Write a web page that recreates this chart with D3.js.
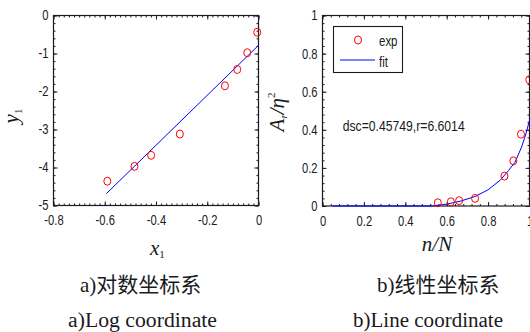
<!DOCTYPE html>
<html>
<head>
<meta charset="utf-8">
<script src="https://cdn.jsdelivr.net/npm/d3@7"></script>
<style>
body { margin: 0; background: #fff; }
svg { display: block; }
</style>
</head>
<body>
<div id="chart"></div>
<script>
// a) log coordinate panel
var logX = [-0.59, -0.484, -0.419, -0.307, -0.131, -0.083, -0.044, -0.005]
var logY = [-4.36, -3.97, -3.68, -3.12, -1.85, -1.42, -0.98, -0.44]
var logFitX = [-0.594, 0]
var logFitY = [-4.69, -0.785]
var logXTicks = [-0.8, -0.6, -0.4, -0.2, 0]
var logYTicks = [0, -1, -2, -3, -4, -5]

// b) linear coordinate panel
var linX = [0.557, 0.62, 0.66, 0.737, 0.879, 0.922, 0.959, 0.999]
var linY = [0.017, 0.022, 0.028, 0.04, 0.157, 0.237, 0.377, 0.663]
var linFitX = [0.047, 0.53, 0.6, 0.665, 0.737, 0.8, 0.858, 0.898, 0.93, 0.962, 0.983, 1.0]
var linFitY = [0, 0, 0.01, 0.025, 0.05, 0.085, 0.135, 0.185, 0.23, 0.31, 0.38, 0.45]
var linTicks = [0, 0.2, 0.4, 0.6, 0.8, 1]
var legendLabels = ["exp", "fit"]
var noteText = "dsc=0.45749,r=6.6014"

var captions = [
    {cn: "a)对数坐标系", en: "a)Log coordinate"},
    {cn: "b)线性坐标系", en: "b)Line coordinate"}
]

var W = 530, H = 332
var ink = "#1a1a22"
var tickFont = "'Liberation Sans', Arial, sans-serif"
var serif = "'Liberation Serif', 'Times New Roman', serif"

var svg = d3.select("#chart").append("svg")
    .attr("width", W).attr("height", H)

/**
 * squeeze a text selection horizontally (the source figure is narrow)
 */
function squeeze(sel, k) {
    sel.each(function() {
        var w = this.getComputedTextLength()
        d3.select(this).attr("textLength", w * k).attr("lengthAdjust", "spacingAndGlyphs")
    })
}

function minorValues(domain, step) {
    var lo = Math.min(domain[0], domain[1]), hi = Math.max(domain[0], domain[1])
    return d3.range(Math.round(lo / step), Math.round(hi / step) + 1).map(function(i) { return i * step })
}

/**
 * Draw one panel: box, inward ticks on all sides, circles and fit line
 */
function drawPanel(p) {
    var x = d3.scaleLinear().domain(p.xDomain).range(p.xRange)
    var y = d3.scaleLinear().domain(p.yDomain).range(p.yRange)
    var g = svg.append("g")
    var top = p.yRange[1], bottom = p.yRange[0], left = p.xRange[0], right = p.xRange[1]

    var fmt = function(d) { return String(d) }
    var axes = [
        [d3.axisBottom(x), "translate(0," + bottom + ")", p.xTicks, p.xMinor, true, x, 10],
        [d3.axisTop(x), "translate(0," + top + ")", p.xTicks, p.xMinor, false, x, 6],
        [d3.axisLeft(y), "translate(" + left + ",0)", p.yTicks, p.yMinor, true, y, 5],
        [d3.axisRight(y), "translate(" + right + ",0)", p.yTicks, p.yMinor, false, y, 6]
    ]
    axes.forEach(function(a) {
        var scale = a[5]
        // minor ticks
        g.append("g").attr("transform", a[1])
            .call(a[0].scale(scale).tickValues(minorValues(scale.domain(), a[3])).tickSize(-2).tickFormat(""))
        // major ticks
        var ag = g.append("g").attr("transform", a[1])
            .call(a[0].scale(scale).tickValues(a[2]).tickSize(-4)
                .tickPadding(a[6])
                .tickFormat(a[4] ? fmt : ""))
        ag.selectAll("text").attr("font-family", tickFont).attr("font-size", 14).attr("fill", ink)
        squeeze(ag.selectAll("text"), 0.8)
    })
    g.selectAll(".domain").remove()
    g.selectAll(".tick line").attr("stroke", ink)

    g.append("rect")
        .attr("x", left).attr("y", top)
        .attr("width", right - left).attr("height", bottom - top)
        .attr("fill", "none").attr("stroke", ink).attr("stroke-width", 1.2)

    var line = d3.line()
        .x(function(d) { return x(d[0]) })
        .y(function(d) { return y(d[1]) })
    g.append("path")
        .datum(d3.zip(p.fitX, p.fitY))
        .attr("fill", "none").attr("stroke", "#0000ff").attr("stroke-width", 1)
        .attr("d", line)

    g.selectAll("ellipse.pt")
        .data(d3.zip(p.ptX, p.ptY))
        .enter().append("ellipse").attr("class", "pt")
        .attr("cx", function(d) { return x(d[0]) })
        .attr("cy", function(d) { return y(d[1]) })
        .attr("rx", 3.5).attr("ry", 4)
        .attr("fill", "none").attr("stroke", "#ff0000").attr("stroke-width", 1)
    return g
}

drawPanel({
    xDomain: [-0.8, 0], xRange: [53.5, 258.5],
    yDomain: [-5, 0], yRange: [205.5, 15.5],
    xTicks: logXTicks, yTicks: logYTicks, xMinor: 0.02, yMinor: 0.2,
    ptX: logX, ptY: logY, fitX: logFitX, fitY: logFitY
})

drawPanel({
    xDomain: [0, 1], xRange: [322.5, 529.5],
    yDomain: [0, 1], yRange: [206, 15.5],
    xTicks: linTicks, yTicks: linTicks, xMinor: 0.04, yMinor: 0.04,
    ptX: linX, ptY: linY, fitX: linFitX, fitY: linFitY
})

// legend
var lg = svg.append("g")
lg.append("rect").attr("x", 333.5).attr("y", 26.5).attr("width", 69).attr("height", 46)
    .attr("fill", "#fff").attr("stroke", ink).attr("stroke-width", 1.1)
lg.append("ellipse").attr("cx", 358).attr("cy", 40).attr("rx", 3.5).attr("ry", 4)
    .attr("fill", "none").attr("stroke", "#ff0000")
lg.append("line").attr("x1", 340).attr("x2", 375).attr("y1", 60).attr("y2", 60)
    .attr("stroke", "#0000ff").attr("stroke-width", 1.2)
lg.selectAll("text").data(legendLabels).enter().append("text")
    .attr("x", 379).attr("y", function(d, i) { return i ? 66.5 : 45.5 })
    .attr("font-family", tickFont).attr("font-size", 14).attr("fill", ink)
    .text(function(d) { return d })
squeeze(lg.selectAll("text"), 0.82)

svg.append("text").attr("x", 342.7).attr("y", 130.5)
    .attr("font-family", tickFont).attr("font-size", 14).attr("fill", ink)
    .attr("textLength", 122).attr("lengthAdjust", "spacingAndGlyphs")
    .text(noteText)

// axis titles
var t1 = svg.append("text").attr("x", 150).attr("y", 254.5)
    .attr("font-family", serif).attr("font-size", 21).attr("font-style", "italic").attr("fill", ink)
t1.append("tspan").text("x")
t1.append("tspan").attr("font-size", 11).attr("font-style", "normal").attr("dy", 3).text("1")

svg.append("text").attr("x", 437).attr("y", 250.5).attr("text-anchor", "middle")
    .attr("font-family", serif).attr("font-size", 21).attr("font-style", "italic").attr("fill", ink)
    .text("n/N")

var t3 = svg.append("text").attr("transform", "translate(18,116) rotate(-90)").attr("text-anchor", "middle")
    .attr("font-family", serif).attr("font-size", 21).attr("font-style", "italic").attr("fill", ink)
t3.append("tspan").text("y")
t3.append("tspan").attr("font-size", 11).attr("font-style", "normal").attr("dy", 4).text("1")

var t4 = svg.append("text").attr("transform", "translate(284,112) rotate(-90)").attr("text-anchor", "middle")
    .attr("font-family", serif).attr("font-size", 21).attr("font-style", "italic").attr("fill", ink)
t4.append("tspan").text("A")
t4.append("tspan").attr("font-size", 11).attr("dy", 3).text("r")
t4.append("tspan").attr("dy", -3).text("/η")
t4.append("tspan").attr("font-size", 11).attr("font-style", "normal").attr("dy", -9).text("2")

// captions
var capFont = "'Liberation Serif', 'Noto Sans CJK SC', serif"
var capX = [[80, 68], [377, 353]]
var capW = [149, 150]
captions.forEach(function(c, i) {
    svg.append("text").attr("x", capX[i][0]).attr("y", 292)
        .attr("font-family", capFont).attr("font-size", 21).attr("fill", ink).text(c.cn)
    svg.append("text").attr("x", capX[i][1]).attr("y", 327)
        .attr("font-family", capFont).attr("font-size", 20).attr("fill", ink)
        .attr("textLength", capW[i]).attr("lengthAdjust", "spacingAndGlyphs").text(c.en)
})
</script>
</body>
</html>
